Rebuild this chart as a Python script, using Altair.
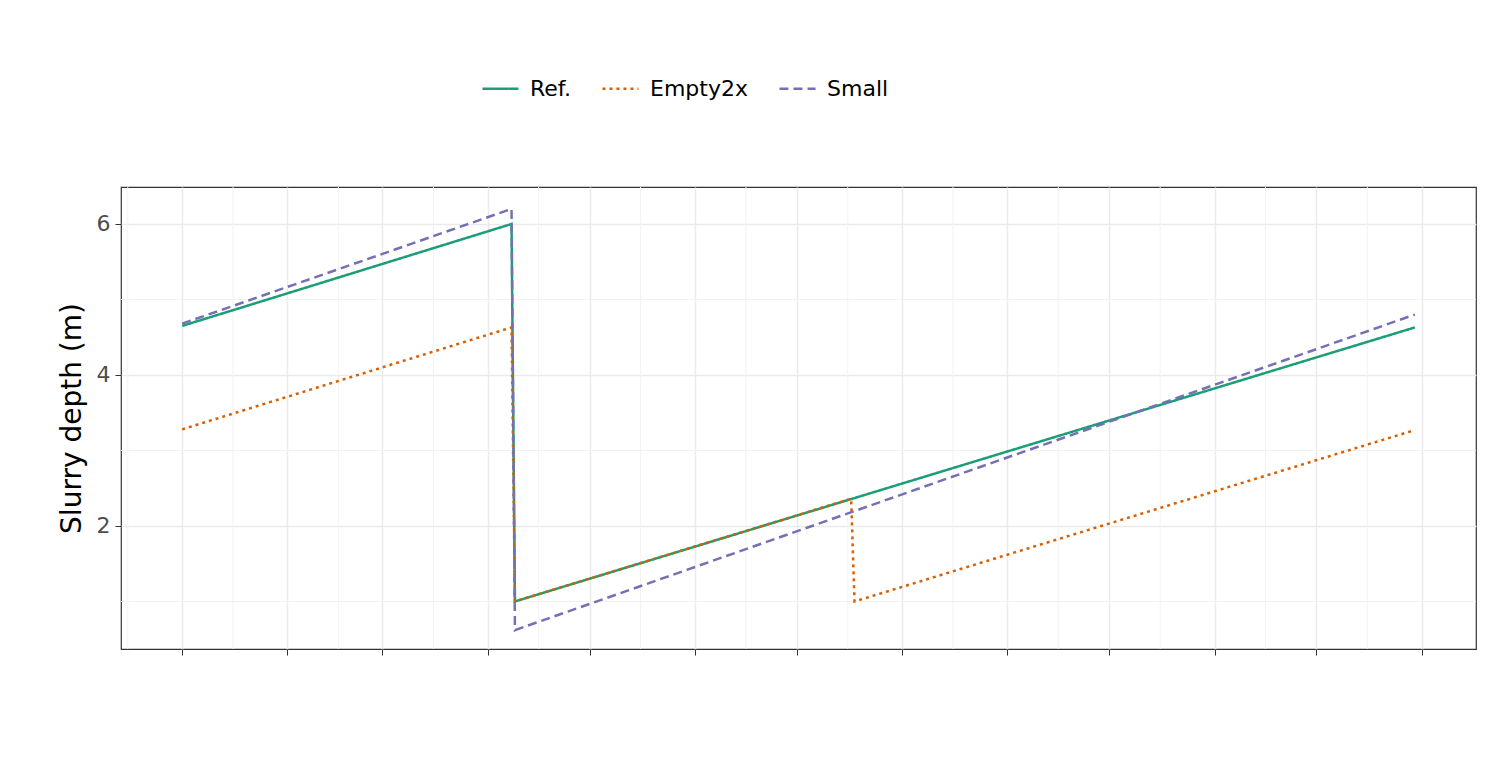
import altair as alt
import pandas as pd

# values
ref_dates = ["2021-01-01", "2021-04-08", "2021-04-09", "2021-12-30"]
ref_depth = [4.65, 6.0, 1.0, 4.63]

empty_dates = ["2021-01-01", "2021-04-08", "2021-04-09", "2021-07-17", "2021-07-18", "2021-12-30"]
empty_depth = [3.28, 4.63, 1.0, 2.36, 1.0, 3.27]

small_dates = ["2021-01-01", "2021-04-08", "2021-04-09", "2021-12-30"]
small_depth = [4.68, 6.2, 0.62, 4.8]

series = ["Ref.", "Empty2x", "Small"]
colors = ["#1b9e77", "#d95f02", "#7570b3"]
dashes = [[1, 0], [3, 4], [9, 5]]

rows = []
for name, ds, vs in [("Ref.", ref_dates, ref_depth), ("Empty2x", empty_dates, empty_depth),
                     ("Small", small_dates, small_depth)]:
    for d, v in zip(ds, vs):
        rows.append({"date": d, "depth": v, "scenario": name})
df = pd.DataFrame(rows)

major_x = [alt.DateTime(year=2021 + (m // 12), month=m % 12 + 1, date=1, utc=True) for m in range(13)]
minor_x = pd.DataFrame({"date": [f"2021-{m:02d}-16" for m in range(1, 13)] + ["2020-12-16"]})
minor_y = pd.DataFrame({"depth": [1, 3, 5]})

xscale = alt.Scale(type="utc", domain=[alt.DateTime(year=2020, month=12, date=14, utc=True),
                                       alt.DateTime(year=2022, month=1, date=17, utc=True)])
yscale = alt.Scale(domain=[0.37, 6.49], nice=False, zero=False)

vgrid = alt.Chart(minor_x).mark_rule(color="#f2f2f2", strokeWidth=1).encode(
    x=alt.X("date:T", scale=xscale))
hgrid = alt.Chart(minor_y).mark_rule(color="#f2f2f2", strokeWidth=1).encode(
    y=alt.Y("depth:Q", scale=yscale))

lines = alt.Chart(df).mark_line(strokeWidth=2.5).encode(
    x=alt.X("date:T", scale=xscale, title="Date (month)",
            axis=alt.Axis(values=major_x, labelExpr="utcFormat(datum.value, '%m')")),
    y=alt.Y("depth:Q", scale=yscale, title="Slurry depth (m)",
            axis=alt.Axis(values=[2, 4, 6], format="d")),
    color=alt.Color("scenario:N", scale=alt.Scale(domain=series, range=colors),
                    legend=alt.Legend(title=None, orient="none", direction="horizontal",
                                      legendX=360, legendY=-118, symbolType="stroke",
                                      symbolSize=1300, symbolStrokeWidth=2.5,
                                      labelFontSize=22, labelColor="black", columnPadding=26,
                                      labelOffset=10)),
    strokeDash=alt.StrokeDash("scenario:N", scale=alt.Scale(domain=series, range=dashes), legend=None),
    detail="scenario:N",
)

chart = (vgrid + hgrid + lines).properties(
    width=1355, height=462, padding={"left": 113, "top": 179, "right": 10, "bottom": 10},
    autosize=alt.AutoSizeParams(type="none")
).configure_view(stroke="#333333", strokeWidth=1.2
).configure_axis(
    gridColor="#ebebeb", gridWidth=1.5, domain=False, tickColor="#333333", tickSize=6,
    labelFont="DejaVu Sans", labelFontSize=22, labelColor="#4d4d4d", labelPadding=5,
    titleFont="DejaVu Sans", titleFontSize=28, titleFontWeight="normal", titleColor="black"
).configure_axisX(titlePadding=4).configure_axisY(titlePadding=10
).configure_legend(labelFont="DejaVu Sans")

chart.save("out.html", embed_options={"renderer": "svg", "actions": False})
